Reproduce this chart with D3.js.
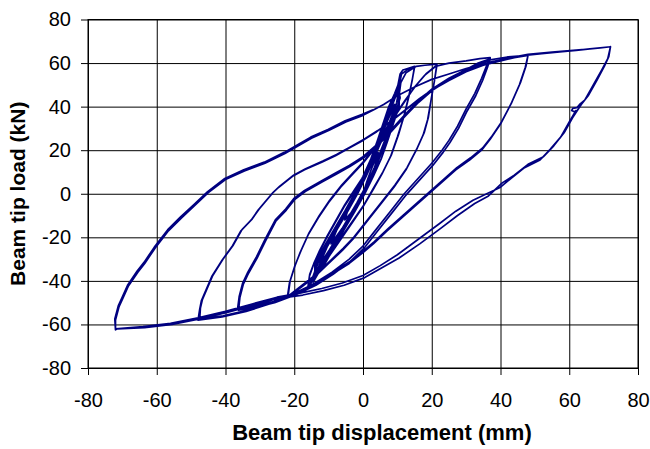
<!DOCTYPE html>
<html>
<head>
<meta charset="utf-8">
<script src="https://cdn.jsdelivr.net/npm/d3@7"></script>
<style>
  body { margin: 0; background: #fff; }
  text { font-family: "Liberation Sans", Arial, sans-serif; }
</style>
</head>
<body>
<svg width="650" height="449"></svg>
<script>
// beam tip displacement (mm), beam tip load (kN), in test order
const elasticCycles = [
  [0,0],[1.2,6],[2.6,12],[4.2,18],
  [3.4,12],[1.0,4],[-1.7,-4],[-3.6,-9],[-5.3,-12],
  [-4.5,-8],[-3.1,-4],[-0.4,4],[2.0,12],[4.4,19],
  [3.5,12],[1.0,4],[-1.7,-4],[-4.6,-12],[-7.6,-20],[-9.0,-22],
  [-7.5,-16],[-4.5,-8],[-1.7,0],[0.8,8],[3.1,16],[4.9,24],[6.9,30],
  [6.3,24],[4.5,16],[2.2,8],[-0.3,0],[-3.1,-8],[-6.1,-16],[-9.3,-23],
  [-7.6,-16],[-4.5,-8],[-1.6,0],[0.9,8],[3.2,16],[5.0,24],[7.1,31],
  [6.3,24],[4.5,16],[2.2,8],[-0.3,0],[-3.1,-8],[-6.1,-16],[-9.0,-24],[-11.5,-30],[-12.5,-32],
  [-10.4,-24],[-7.5,-16],[-4.5,-8],[-1.7,0],[0.8,8],[3.1,16],[4.9,24],[6.6,32],[8.2,37],[9.0,40],
  [8.0,32],[6.3,24],[4.5,16],[2.2,8],[-0.3,0],[-3.1,-8],[-6.1,-16],[-9.0,-24],[-12.0,-31],[-12.8,-33],
  [-10.3,-24],[-7.4,-16],[-4.4,-8],[-1.6,0],[0.9,8],[3.2,16],[5.0,24],[6.7,32],[8.4,38],[9.2,41],
  [8.9,36],[8.0,32],[6.3,24],[4.5,16],[2.2,8],[-0.3,0],[-3.1,-8],[-6.1,-16],[-9.0,-24],[-11.8,-32],[-14.1,-38],[-15.0,-40],
  [-13.2,-32],[-10.4,-24],[-7.5,-16],[-4.5,-8],[-1.7,0],[0.8,8],[3.1,16],[4.9,24],[6.6,32],[8.3,40],[9.6,45],[10.5,48],
  [9.8,42],[8.9,36],[7.2,28],[5.2,20],[3.3,12],[1.0,4],[-1.7,-4],[-4.6,-12],[-7.6,-20],[-10.6,-28],[-13.5,-35],[-15.3,-41],
  [-13.1,-32],[-10.3,-24],[-7.4,-16],[-4.4,-8],[-1.6,0],[0.9,8],[3.2,16],[5.0,24],[6.7,32],[8.4,40],[9.8,46],[10.6,49],
  [10.5,40],[8.8,32],[7.1,24],[5.3,16],[3.0,8],[0.5,0],[-2.3,-8],[-5.3,-16],[-8.2,-24],[-11,-32],[-14,-38],
  [-14,-32],[-11.2,-24],[-8.3,-16],[-5.3,-8],[-2.5,0],[0,8],[2.3,16],[4.1,24],[5.8,32],[7.5,40],[9.2,46],[10.2,50],
  [10.8,44],[9.2,36],[7.5,28],[5.7,20],[3.7,12],[1.3,4],[-1.4,-4],[-4.3,-12],[-7.3,-20],[-10.1,-28],[-12.8,-36],[-14.5,-40.5],
  [-13.7,-32],[-10.9,-24],[-8.0,-16],[-5.0,-8],[-2.2,0],[0.3,8],[2.6,16],[4.4,24],[6.1,32],[7.8,40],[9.8,47]
]

const cycles15 = [
  [10.8,55],[11.6,56.8],[13,57.5],[15,58.5],
  [14.3,52],[13.2,44],[11.8,35],[10,26],[8,17],[5.5,9],[3,2],[0,-6],[-3,-13],[-6.5,-21],[-10,-29],[-13,-36],[-16,-43],
  [-15.6,-38],[-14.5,-33],[-12.8,-27],[-10.5,-20],[-8,-13],[-5.5,-6],[-3,0],[-0.5,6],[2,13],[4.5,21],[7,30],[9,38],[10.3,44],[10.6,50],[11.2,55],[13,57],[15,58],
  [14.4,53],[13.4,45],[12,36],[10.3,27],[8.3,18],[5.8,10],[3.2,3],[0.3,-5],[-2.8,-12],[-6.3,-20],[-9.8,-28],[-12.8,-35],[-16,-42.5],
  [-15.5,-37],[-14.3,-32],[-12.6,-26],[-10.3,-19],[-7.8,-12],[-5.3,-5],[-2.8,1],[-0.3,7],[2.2,14],[4.7,22],[7.2,31],[9.2,39],[10.5,45],[11,51],[12.5,55.5],[15.5,58.5]
]

const cycles22 = [
  [18,59],[21.5,59.5],
  [20.8,52],[19.8,43],[18.8,34],[17.5,27],[15.5,20],[12.5,11],[9,3],[5,-5],[2,-11],[0,-15],[-3,-21],[-6,-26],[-10,-32],[-14,-38],[-18,-43],[-22,-47.5],
  [-21.4,-41],[-20,-34],[-18.3,-27],[-16,-19],[-13,-11],[-10,-4],[-6.5,3],[-3,9],[0,14],[3,20],[6,27],[9,35],[12,42],[15,49],[18,54.5],[21.5,59],
  [20.9,53],[19.9,44],[19,35],[17.8,28],[15.8,21],[12.8,12],[9.3,4],[5.3,-4],[2.3,-10],[0.3,-14],[-2.7,-20],[-5.7,-25],[-9.7,-31],[-13.7,-37],[-17.7,-42],[-21.8,-47],
  [-21.2,-40],[-19.8,-33],[-18,-26],[-15.7,-18],[-12.7,-10],[-9.7,-3],[-6.2,4],[-2.7,10],[0.3,15],[3.3,21],[6.3,28],[9.3,36],[12.3,43],[15.3,49.5],[18.3,55],[21,58.5]
]

const cycles37 = [
  [25,60],[30,61],[34,62],[37,62.5],
  [36,59],[34.5,53],[32.5,46],[30,39],[27.5,31],[25,24.5],[23,20],[20,14],[16,7],[12,0],[8,-8],[4,-16],[0,-24],[-4,-30],[-9,-36],[-14,-41],[-20,-46],[-26,-49.5],[-31,-51.5],[-36.5,-53],
  [-36,-47],[-35,-41],[-33.5,-36],[-31,-29],[-28.5,-21],[-25.5,-12],[-22.5,-7],[-20,-2],[-17,1.5],[-12,6],[-8,9.5],[-4,13],[0,17],[4,22.5],[8,29],[12,36],[16,42.5],[20,48],[25,53],[30,57],[33.5,60],[37,62],
  [36.2,58],[34.8,52],[32.8,45],[30.3,38],[27.8,30],[25.3,23.5],[23.3,19],[20.3,13],[16.3,6],[12.3,-1],[8.3,-9],[4.3,-17],[0.3,-25],[-3.7,-31],[-8.7,-37],[-13.7,-42],[-19.7,-46.5],[-25.7,-50],[-30.7,-52],[-36.2,-53.5],
  [-35.8,-47.5],[-34.8,-41.5],[-33.3,-36.5],[-30.8,-29.5],[-28.3,-21.5],[-25.3,-12.5],[-22.3,-7.5],[-19.8,-2.5],[-16.8,1],[-11.8,5.5],[-7.8,9],[-3.8,12.5],[0.2,16.5],[4.2,22],[8.2,28.5],[12.2,35.5],[16.2,42],[20.2,47.5],[25.2,52.5],[30.2,56.5],[33.8,59.5],[37,61.5]
]

const cycles48 = [
  [42,62.8],[48,63.5],
  [47.2,58],[45.5,50],[43,41],[40,32],[37,25],[34.5,20],[31,15.5],[27,11],[22,4],[17,-3],[12,-10],[7,-17],[3,-23],[0,-27],[-4,-32],[-9,-37],[-14,-41.5],[-20,-46],[-27,-50.5],[-34,-54],[-41,-56.5],[-48,-58],
  [-47.5,-53],[-47,-49],[-44,-38],[-41,-30.5],[-38,-24],[-35.5,-17],[-32.5,-12],[-30.5,-7.5],[-26.5,0],[-24.5,3],[-20.5,8],[-17,11],[-12,14.5],[-8,17.5],[-4,21],[0,24.5],[4,28.5],[8,33],[12,38],[16,43],[20,47.5],[25,52],[30,56],[35,59],[40,61],[44,62.5],[48,63.5],
  [47.4,58.5],[45.8,51],[43.3,42],[40.3,33],[37.3,26],[34.8,21],[31.3,16.5],[27.3,12],[22.3,5],[17.3,-2],[12.3,-9],[7.3,-16],[3.3,-22],[0.3,-26],[-3.7,-31],[-8.7,-36],[-13.7,-41],[-19.7,-45.5],[-26.7,-50],[-33.7,-53.5],[-40.7,-56],[-47.5,-57.5],
  [-47.3,-52.5],[-46.7,-48.5],[-43.7,-37.5],[-40.7,-30],[-37.7,-23.5],[-35.2,-16.5],[-32.2,-11.5],[-30.2,-7],[-26.2,0.5],[-24.2,3.5],[-20.2,8.5],[-16.7,11.5],[-11.7,15],[-7.7,18],[-3.7,21.5],[0.3,25],[4.3,29],[8.3,33.5],[12.3,38.5],[16.3,43.5],[20.3,48],[25.3,52.5],[30.3,56.5],[35.3,59.5],[40.3,61.5],[44.3,63],[48.5,63.8],
  [52,64.3],[55,64.8],[58,65.2],[62,65.8],[66,66.5],[69,67],[72,67.5]
]

const cycles72 = [
  [71.2,62],[69.5,57],[67,50],[64.5,43],[63,41],[62.2,39.5],[61,39.2],[60.7,38.2],[61.5,37.6],[62,38.2],[61.5,37],[60,33],[57.5,26],[54.5,20.5],[51.5,15.5],[47,12],[43,7],[40,3],[36,0],[32,-3],[27,-8],[22,-14],[16,-21],[10,-28],[5,-33],[0,-37.5],[-6,-41],[-12,-43.5],[-18,-45.5],[-25,-47.5],[-32,-50.5],[-40,-54],[-48,-57],[-56,-59.5],[-64,-61],[-72,-62],
  [-72,-58],[-71,-52],[-70,-48.5],[-68.3,-42.5],[-65.5,-36],[-63.5,-32],[-60.5,-25],[-56.6,-17],[-52.7,-11],[-49,-5.5],[-45,0.5],[-40,6.5],[-34.5,10.5],[-28.5,14],[-22.7,18.5],[-18.8,22],[-15,25.5],[-10,29],[-5,33],[0,36],[3,38.5],[6,41],[10,45],[15,49],[20,52.5],[25,55],[30,57.5],[37,60.5],[43,62.5],[48,64],[55,65],[62,66],[68,66.8],[72,67.5],
  [71.5,63],[70.2,58.5],[68,52],[65.5,45],[63.5,41],[61,35],[58.5,28],[55.5,22],[52.5,17],[48,13.5],[44,8.5],[40.5,5],[36.5,-1],[32.5,-4.5],[27.5,-10],[22.5,-16],[16.5,-23],[10.5,-29.5],[5.5,-34],[0.5,-38.5],[-5.5,-42],[-11.5,-44.5],[-17.5,-46.5],[-24.5,-48],[-31.5,-51],[-39.5,-54.5],[-47.5,-57.5],[-55.5,-60],[-63.5,-61.5],[-71.5,-62],[-72,-62.5],
  [-72.2,-57.5],[-71.2,-51.5],[-70.2,-48],[-68.5,-42],[-65.7,-35.5],[-63.7,-31.5],[-60.7,-24.5],[-56.8,-16.5],[-53,-10.5],[-49.2,-5],[-45.2,1],[-40.2,7],[-34.7,11],[-28.7,14.5],[-22.9,19],[-19,22.5],[-15.2,26],[-10.2,29.5],[-5.2,33.5],[-0.2,36.5],[2.9,38.5]
]

const xTicks = [-80, -60, -40, -20, 0, 20, 40, 60, 80]
const yTicks = [-80, -60, -40, -20, 0, 20, 40, 60, 80]

const path = [].concat(elasticCycles, cycles15, cycles22, cycles37, cycles48, cycles72)

const plotLeft = 88, plotRight = 638, plotTop = 19.5, plotBottom = 368;

var svg = d3.select("svg");

var x = d3.scaleLinear().domain([-80, 80]).range([plotLeft, plotRight]);
var y = d3.scaleLinear().domain([-80, 80]).range([plotBottom, plotTop]);

// grid
svg.append("g")
    .attr("transform", "translate(0," + plotBottom + ")")
    .call(d3.axisBottom(x).tickValues(xTicks).tickSize(-(plotBottom - plotTop)).tickFormat(""))
    .call(g => g.select(".domain").remove());
svg.append("g")
    .attr("transform", "translate(" + plotLeft + ",0)")
    .call(d3.axisLeft(y).tickValues(yTicks).tickSize(-(plotRight - plotLeft)).tickFormat(""))
    .call(g => g.select(".domain").remove());
svg.selectAll(".tick line").attr("stroke", "#000");

svg.append("rect")
    .attr("x", plotLeft).attr("y", plotTop)
    .attr("width", plotRight - plotLeft).attr("height", plotBottom - plotTop)
    .attr("fill", "none").attr("stroke", "#000");

// axes, plain hyphen for negatives
var fmt = d => String(d);
var xAxis = svg.append("g")
    .attr("transform", "translate(0," + plotBottom + ")")
    .call(d3.axisBottom(x).tickValues(xTicks).tickFormat(fmt).tickSize(7).tickSizeOuter(0).tickPadding(18));
var yAxis = svg.append("g")
    .attr("transform", "translate(" + plotLeft + ",0)")
    .call(d3.axisLeft(y).tickValues(yTicks).tickFormat(fmt).tickSize(7).tickSizeOuter(0).tickPadding(10));
[xAxis, yAxis].forEach(g => {
  g.attr("font-family", null).attr("font-size", null);
  g.selectAll("text").attr("font-size", 20).attr("fill", "#000");
  g.select(".domain").attr("stroke", "#000");
});

// hysteresis curve
var line = d3.line()
    .x(d => x(d[0]))
    .y(d => y(d[1]));

svg.append("path")
    .datum(path)
    .attr("d", line)
    .attr("fill", "none")
    .attr("stroke", "#000080")
    .attr("stroke-width", 1.7)
    .attr("stroke-linejoin", "round");

// titles
svg.append("text")
    .attr("x", 382).attr("y", 440)
    .attr("text-anchor", "middle")
    .attr("font-size", 22).attr("font-weight", "bold")
    .text("Beam tip displacement (mm)");

svg.append("text")
    .attr("transform", "translate(25," + ((plotTop + plotBottom) / 2) + ") rotate(-90)")
    .attr("text-anchor", "middle")
    .attr("font-size", 21).attr("font-weight", "bold")
    .text("Beam tip load (kN)");
</script>
</body>
</html>
